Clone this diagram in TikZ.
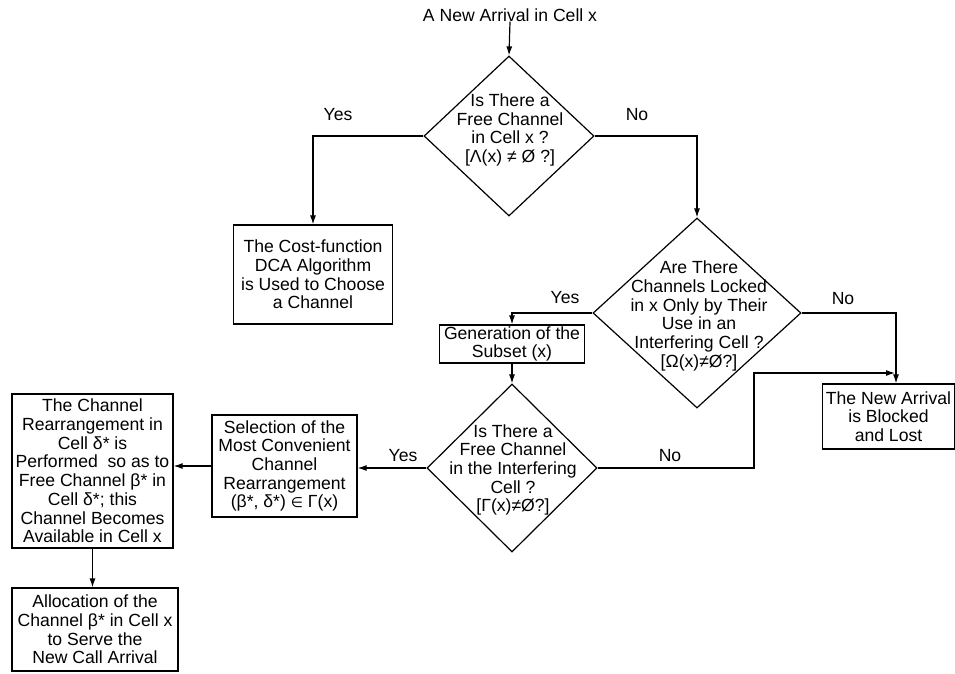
\documentclass[tikz,border=0pt]{standalone}
\usepackage{fontspec}
\setmainfont{Liberation Sans}
\newfontfamily\symfont{DejaVu Sans}
\usetikzlibrary{shapes.geometric,arrows.meta}
\newcommand\figfont{\fontsize{17.6}{18.7}\selectfont}
\tikzset{
  box/.style={draw,rectangle,inner sep=0pt,align=center,line width=1.2pt},
  dia/.style={draw,diamond,inner sep=0pt,line width=1.2pt},
  txt/.style={align=center,inner sep=0pt},
  conn/.style={line width=1.2pt,-{Latex[length=9pt,width=6pt]}},
  every node/.style={font=\figfont}
}
\begin{document}
\begin{tikzpicture}[x=1pt,y=-1pt]
\useasboundingbox (0,0) rectangle (955,673);
% title
\node[txt] (t) at (510,15) {A New Arrival in Cell x};
% diamond 1
\node[dia,minimum width=170pt,minimum height=160pt] (d1) at (509,136) {};
\node[txt] (d1t) at (510,130) {Is There a\\Free Channel\\in Cell x ?\\{[}Λ(x) ≠ Ø ?{]}};
% box 1
\node[box,minimum width=159pt,minimum height=99pt] (b1) at (313,274.5) {The Cost-function\\DCA Algorithm\\is Used to Choose\\a Channel};
% diamond 2
\node[dia,minimum width=208pt,minimum height=190pt] (d2) at (697,313) {};
\node[txt] (d2t) at (699,316) {Are There\\Channels Locked\\in x Only by Their\\Use in an\\Interfering Cell ?\\{[}Ω(x)≠Ø?{]}};
% generation box
\node[box,minimum width=145pt,minimum height=38pt] (b2) at (512,344) {Generation of the\\Subset (x)};
% diamond 3
\node[dia,minimum width=170pt,minimum height=168pt] (d3) at (512,468) {};
\node[txt] (d3t) at (513,470) {Is There a\\Free Channel\\in the Interfering\\Cell ?\\{[}Γ(x)≠Ø?{]}};
% blocked box
\node[box,minimum width=132pt,minimum height=65pt] (b3) at (888.5,416.5) {The New Arrival\\is Blocked\\and Lost};
% selection box
\node[box,minimum width=145pt,minimum height=102pt] (b4) at (284.5,466) {Selection of the\\Most Convenient\\Channel\\Rearrangement\\(β*, δ*) {\symfont\fontsize{14}{18.7}\selectfont ∈} Γ(x)};
% rearrangement box
\node[box,minimum width=161pt,minimum height=154pt] (b5) at (92.5,471) {The Channel\\Rearrangement in\\Cell δ* is\\Performed\ \ so as to\\Free Channel β* in\\Cell δ*; this\\Channel Becomes\\Available in Cell x};
% allocation box
\node[box,minimum width=166pt,minimum height=83pt] (b6) at (95,629.5) {Allocation of the\\Channel β* in Cell x\\to Serve the\\New Call Arrival};
% labels
\node[txt] (l1) at (338,115) {Yes};
\node[txt] (l2) at (637,115) {No};
\node[txt] (l3) at (565,298) {Yes};
\node[txt] (l4) at (843,299) {No};
\node[txt] (l5) at (670,456) {No};
\node[txt] (l6) at (403,456) {Yes};
% helper coordinates
\coordinate (bend) at (754,373);
\coordinate (jn) at (895,373);
% connectors
\draw[conn] (t.south) -- (d1.north);
\draw[conn] (d1.west) -| (b1.north);
\draw[conn] (d1.east) -| (d2.north);
\draw[conn] (d2.west) -| (b2.north);
\draw[conn] (d2.east) -| ([xshift=7.5pt]b3.north);
\draw[conn] (b2.south) -- (d3.north);
\draw[conn] (d3.east) -| (bend) -- (jn);
\draw[conn] (d3.west) -- (d3.west -| b4.east);
\draw[conn] (b4.west) -- (b4.west -| b5.east);
\draw[conn] (b5.south) -- (b5.south |- b6.north);
\end{tikzpicture}
\end{document}
